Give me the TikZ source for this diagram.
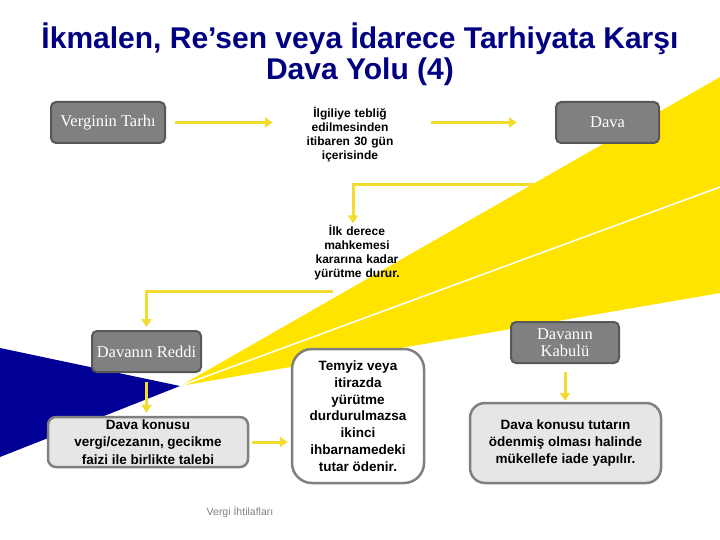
\documentclass[tikz,border=0pt]{standalone}
\usepackage{fontspec}
\setmainfont{Liberation Serif}
\newfontfamily\arialfont{Liberation Sans}
\usetikzlibrary{arrows.meta, positioning}

\definecolor{bgyellow}{RGB}{255,228,0}
\definecolor{arrowyellow}{RGB}{242,220,48}
\definecolor{wedgeblue}{RGB}{0,0,150}
\definecolor{titlenavy}{RGB}{0,0,128}
\definecolor{boxgray}{RGB}{128,128,128}
\definecolor{boxedge}{RGB}{88,88,88}
\definecolor{lightbox}{RGB}{230,230,230}
\definecolor{lightedge}{RGB}{128,128,128}

\pgfdeclarelayer{back}
\pgfdeclarelayer{links}
\pgfdeclarelayer{wedges}
\pgfsetlayers{back,links,wedges,main}

\tikzset{
    darkbox/.style = {draw = boxedge, fill = boxgray, line width = 2pt, rounded corners = 5pt,
        text = white, align = center, inner sep = 0pt, minimum height = 41,
        font = \fontsize{16.5}{17}\selectfont},
    lightbox/.style = {draw = lightedge, fill = lightbox, line width = 2.5pt, align = center,
        inner sep = 0pt, font = \arialfont\bfseries\fontsize{13.5}{17.2}\selectfont},
    note/.style = {align = center, inner sep = 0pt, text width = 100,
        font = \arialfont\bfseries\fontsize{12}{14}\selectfont},
    flow/.style = {draw = arrowyellow, line width = 3pt, -{Triangle[length = 8pt, width = 10pt]}}
}

\begin{document}
\begin{tikzpicture}[x = 1pt, y = -1pt]
    \useasboundingbox (0,0) rectangle (720,540);
    \begin{pgfonlayer}{back}
        \fill[wedgeblue] (180,386) -- (0,348) -- (0,457) -- cycle;
    \end{pgfonlayer}
    \begin{pgfonlayer}{wedges}
        \fill[bgyellow] (180,386) -- (720,77) -- (720,293) -- cycle;
        \draw[white, line width = 1.5pt] (180,386) -- (720,187);
    \end{pgfonlayer}

    \node (title) at (360,54) [align = center, inner sep = 0pt, text = titlenavy,
        font = \arialfont\bfseries\fontsize{30}{31}\selectfont]
        {İkmalen, Re’sen veya İdarece Tarhiyata Karşı\\Dava Yolu (4)};

    \node (tarhi) at (108,122.5) [darkbox, minimum width = 114] {Verginin Tarhı};
    \node (ilgili) at (350,135) [note] {İlgiliye tebliğ\\edilmesinden\\itibaren 30 gün\\içerisinde};
    \node (dava) at (607.5,122.5) [darkbox, minimum width = 103] {Dava};
    \node (ilk) at (357,253) [note] {İlk derece\\mahkemesi\\kararına kadar\\yürütme durur.};
    \node (reddi) at (146.5,351.5) [darkbox, minimum width = 109] {Davanın Reddi};
    \node (kabul) at (565,342.5) [darkbox, minimum width = 108, minimum height = 41]
        {Davanın\\Kabulü};
    \node (talep) at (148,442) [lightbox, rounded corners = 8pt, minimum width = 200,
        minimum height = 50] {Dava konusu\\vergi/cezanın, gecikme\\faizi ile birlikte talebi};
    \node (temyiz) at (358,416) [lightbox, fill = white, rounded corners = 20pt,
        minimum width = 132, minimum height = 134,
        font = \arialfont\bfseries\fontsize{13.5}{16.8}\selectfont]
        {Temyiz veya\\itirazda\\yürütme\\durdurulmazsa\\ikinci\\ihbarnamedeki\\tutar ödenir.};
    \node (iade) at (565.5,443) [lightbox, rounded corners = 15pt, minimum width = 191,
        minimum height = 80] {Dava konusu tutarın\\ödenmiş olması halinde\\mükellefe iade yapılır.};
    \node (dipnot) at (240,512) [text = lightedge, inner sep = 0pt,
        font = \arialfont\fontsize{10.5}{12}\selectfont] {Vergi İhtilafları};

    \coordinate (turn1) at (353,185);
    \coordinate (turn2) at (333,291);
    \begin{pgfonlayer}{links}
        \draw[flow, shorten <= 9pt, shorten >= 27pt] (tarhi.east) -- (tarhi.east -| ilgili.west);
        \draw[flow, shorten <= 31pt, shorten >= 38pt] (ilgili.east |- dava.west) -- (dava.west);
        \draw[flow, shorten >= 2pt] (dava.south) |- (turn1) -- (turn1 |- ilk.north);
        \draw[flow, shorten >= 3pt] (turn2) -| (reddi.north);
        \draw[flow, shorten <= 9pt, shorten >= 3pt] (reddi.south) -- (reddi.south |- talep.north);
        \draw[flow, shorten <= 3pt, shorten >= 3pt] (talep.east) -- (talep.east -| temyiz.west);
        \draw[flow, shorten <= 8pt, shorten >= 1pt] (kabul.south) -- (kabul.south |- iade.north);
    \end{pgfonlayer}
\end{tikzpicture}
\end{document}
